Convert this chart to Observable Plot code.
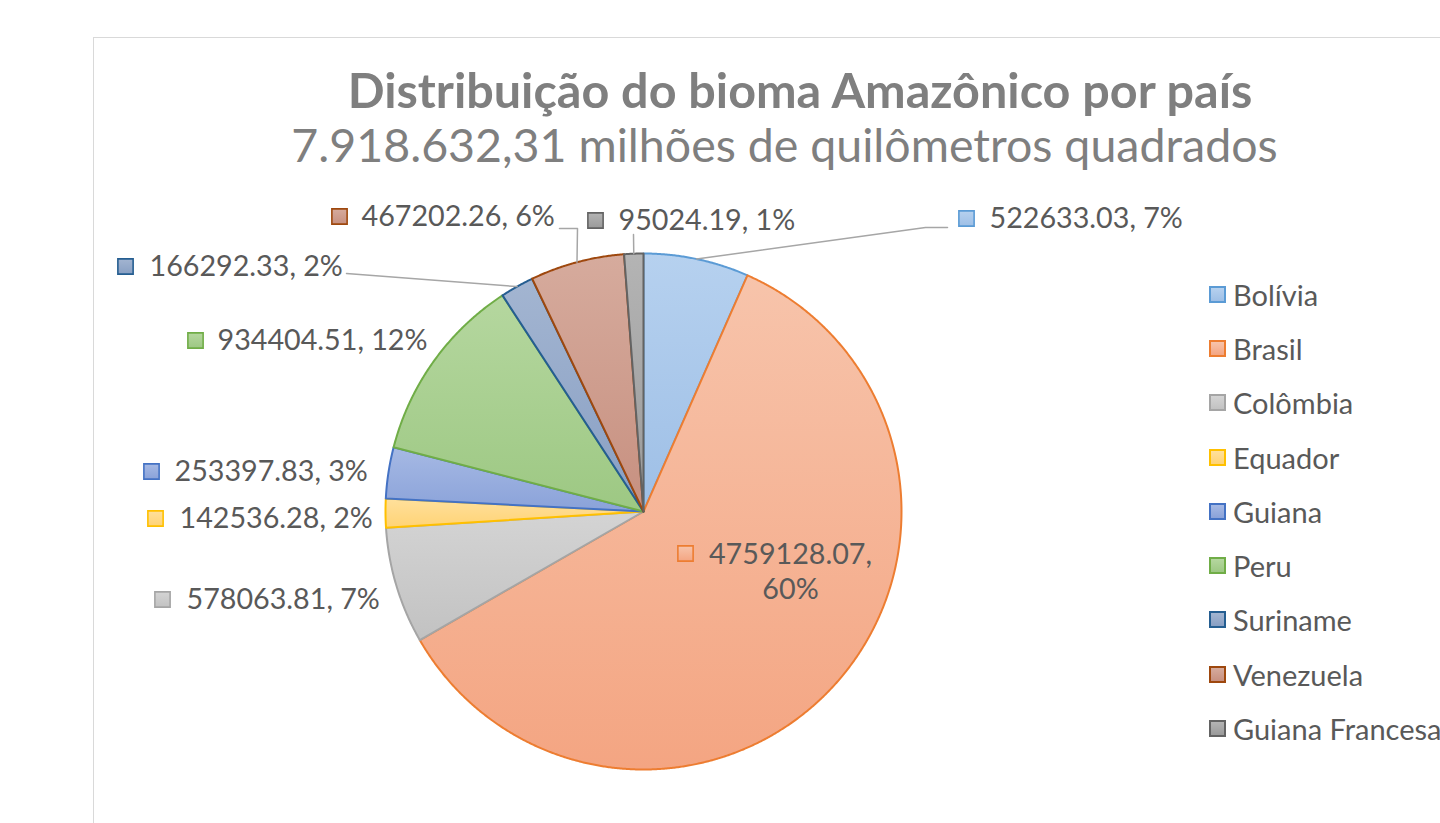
<!DOCTYPE html>
<html><head><meta charset="utf-8">
<script src="https://cdn.jsdelivr.net/npm/d3@7"></script>
<script src="https://cdn.jsdelivr.net/npm/@observablehq/plot@0.6"></script>
<style>
body{margin:0;background:#fff;font-family:Lato,"Noto Sans",sans-serif;}
#wrap{position:relative;width:1440px;height:823px;overflow:hidden;background:#fff;}
#frame{position:absolute;left:93px;top:37px;width:1400px;height:900px;border:1px solid #d9d9d9;}
#title{position:absolute;left:93px;width:1414px;top:61px;text-align:center;color:#7f7f7f;}
#title .t1{font-size:48.5px;font-weight:bold;line-height:56px;white-space:nowrap;}
#title .t2{font-size:46.5px;line-height:54px;white-space:nowrap;padding-right:31px;}
#chart{position:absolute;left:0;top:0;}
#legend{position:absolute;left:1209px;top:267px;}
#legend .row{height:54.3px;display:flex;align-items:center;white-space:nowrap;}
#legend .sw{width:13px;height:13px;border:2px solid;margin-right:7px;}
#legend .lb{font-size:29px;color:#595959;}
</style></head>
<body><div id="wrap"><div id="frame"></div><div id="chart"></div><div id="title"></div><div id="legend"></div></div>
<script>
// ---- data ----
const countries = ["Bolívia","Brasil","Colômbia","Equador","Guiana","Peru","Suriname","Venezuela","Guiana Francesa"];
const areas = [522633.03, 4759128.07, 578063.81, 142536.28, 253397.83, 934404.51, 166292.33, 467202.26, 95024.19];
const titleLine1 = "Distribuição do bioma Amazônico por país";
const titleLine2 = "7.918.632,31 milhões de quilômetros quadrados";

// ---- styles ----
const fillTop    = ["#b6d1ef","#f7c4ab","#d4d4d4","#ffe09c","#a6b9e4","#b5d79f","#a3b5d1","#d6ab9d","#b4b4b4"];
const fillBottom = ["#9ebfe6","#f4a582","#c2c2c2","#ffd375","#8aa2d9","#9dc883","#889fc3","#c79080","#9a9a9a"];
const strokes    = ["#5b9bd5","#ed7d31","#a5a5a5","#ffc000","#4472c4","#70ad47","#255e91","#9e480e","#636363"];

// ---- layout (page pixels) ----
const W = 1440, H = 823, CX = 643, CY = 511, R = 258;
// label key square centre x, text start x, text centre y
const labelKeyX  = [966, 685, 162, 155, 151, 195, 125, 339, 595];
const labelTextX = [989, 790, 186, 179, 174, 217, 149, 361, 618];
const labelY     = [218, 570, 599, 518, 471, 340, 266, 216, 220];
// leader elbows (page pixels), from slice mid-arc outwards
const leaderElbows = {
  0: [[925, 227], [947, 227]],
  6: [[346, 273]],
  7: [[577, 228], [559, 228]],
  8: [[633, 234]]
};

const toX = px => (px - CX) / R;
const toY = py => (CY - py) / R;

const total = d3.sum(areas);
const pie = d3.pie().sort(null).value(d => d)(areas);
const pctFmt = v => Math.round(v / total * 100) + "%";

const slices = pie.map((p, i) => {
  const pts = [{x: 0, y: 0}];
  const n = Math.max(2, Math.ceil((p.endAngle - p.startAngle) / 0.005));
  for (let k = 0; k <= n; k++) {
    const a = p.startAngle + (p.endAngle - p.startAngle) * k / n;
    pts.push({x: Math.sin(a), y: Math.cos(a)});
  }
  pts.push({x: 0, y: 0});
  return {i, pts, mid: (p.startAngle + p.endAngle) / 2};
});

const labels = countries.map((c, i) => ({
  i,
  kx: toX(labelKeyX[i]) , ky: toY(i === 1 ? 553 : labelY[i]),
  tx: toX(labelTextX[i]), ty: toY(labelY[i]),
  text: i === 1 ? areas[i].toFixed(2) + ",\n" + pctFmt(areas[i]) : areas[i].toFixed(2) + ", " + pctFmt(areas[i]),
  fill: `url(#grad${i})`, stroke: strokes[i]
}));

const leaders = [];
Object.entries(leaderElbows).forEach(([k, elbows]) => {
  const s = slices[+k];
  leaders.push({g: k, x: Math.sin(s.mid), y: Math.cos(s.mid)});
  elbows.forEach(([px, py]) => leaders.push({g: k, x: toX(px), y: toY(py)}));
});

const marks = [];
slices.forEach(s => {
  marks.push(Plot.line(s.pts, {x: "x", y: "y", fill: `url(#grad${s.i})`, stroke: strokes[s.i], strokeWidth: 2, strokeLinejoin: "round"}));
});
marks.push(Plot.line(leaders, {x: "x", y: "y", z: "g", stroke: "#a6a6a6", strokeWidth: 1.5}));
marks.push(Plot.dot(labels, {x: "kx", y: "ky", symbol: "square", r: 8.6, fill: "fill", stroke: "stroke", strokeWidth: 1.6}));
marks.push(Plot.text(labels.filter(d => d.i !== 1), {x: "tx", y: "ty", text: "text", textAnchor: "start", fontSize: 28.7, fill: "#595959"}));
marks.push(Plot.text(labels.filter(d => d.i === 1), {x: "tx", y: "ty", text: "text", textAnchor: "middle", fontSize: 28.7, lineHeight: 1.2, fill: "#595959"}));

const svg = Plot.plot({
  width: W, height: H, margin: 0,
  x: {domain: [toX(0), toX(W)], axis: null},
  y: {domain: [toY(H), toY(0)], axis: null},
  color: {type: "identity"},
  style: {background: "transparent", fontFamily: "Lato, 'Noto Sans', sans-serif", overflow: "visible"},
  marks
});
const defs = d3.select(svg).insert("defs", ":first-child");
countries.forEach((c, i) => {
  const g = defs.append("linearGradient").attr("id", `grad${i}`).attr("x1", 0).attr("y1", 0).attr("x2", 0).attr("y2", 1);
  g.append("stop").attr("offset", "0%").attr("stop-color", fillTop[i]);
  g.append("stop").attr("offset", "100%").attr("stop-color", fillBottom[i]);
});
document.getElementById("chart").appendChild(svg);

const title = d3.select("#title");
title.append("div").attr("class", "t1").text(titleLine1);
title.append("div").attr("class", "t2").text(titleLine2);

const legend = d3.select("#legend");
countries.forEach((c, i) => {
  const row = legend.append("div").attr("class", "row");
  row.append("div").attr("class", "sw").style("border-color", strokes[i])
    .style("background", `linear-gradient(${fillTop[i]}, ${fillBottom[i]})`);
  row.append("div").attr("class", "lb").text(c);
});
</script></body></html>
